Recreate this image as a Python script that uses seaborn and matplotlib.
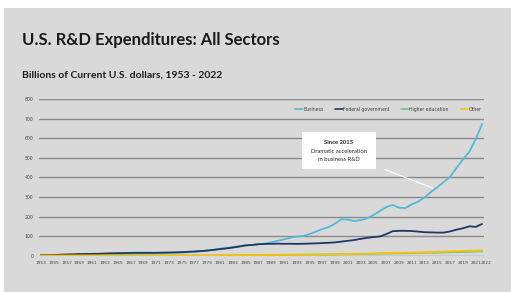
import pandas as pd
import seaborn as sns
import matplotlib.pyplot as plt
from matplotlib.patches import Rectangle
from matplotlib.transforms import ScaledTranslation

years = list(range(1953, 2023))

business = [2.2, 2.3, 2.5, 3.0, 3.4, 3.7, 4.2, 4.5, 4.8, 5.1, 5.5, 5.9, 6.5,
            7.2, 7.7, 8.5, 9.5, 10.4, 10.8, 11.7, 13.3, 14.9, 15.8, 17.7,
            19.6, 22.5, 25.8, 30.9, 35.9, 39.5, 43.6, 48.9, 52.6, 55.0, 58.0,
            62.0, 68.0, 76.0, 83.0, 92.0, 97.0, 100.0, 110.0, 123.0, 136.0,
            146.0, 164.0, 186.0, 184.0, 177.0, 182.0, 191.0, 207.0, 228.0,
            248.0, 259.0, 245.0, 243.0, 262.0, 276.0, 297.0, 325.0, 350.0,
            376.0, 403.0, 448.0, 492.0, 530.0, 595.0, 672.0]

federal = [2.8, 3.1, 3.5, 5.0, 6.4, 7.2, 8.6, 8.9, 9.3, 9.9, 11.2, 12.5, 13.0,
           13.7, 14.4, 14.9, 14.9, 14.9, 15.0, 15.8, 16.4, 17.1, 18.1, 19.9,
           21.6, 23.9, 26.3, 29.6, 33.7, 37.1, 41.5, 46.5, 52.6, 54.6, 58.6,
           60.1, 60.5, 61.6, 60.8, 60.9, 60.5, 60.8, 62.0, 63.0, 64.5, 66.0,
           68.0, 72.0, 76.0, 80.0, 86.0, 91.0, 95.0, 98.0, 110.0, 125.0,
           127.0, 127.0, 126.0, 123.0, 120.0, 119.0, 118.0, 118.0, 124.0,
           133.0, 140.0, 150.0, 147.0, 162.0]

higher_ed = [0.1, 0.1, 0.1, 0.1, 0.1, 0.2, 0.2, 0.2, 0.2, 0.2, 0.3, 0.3, 0.3,
             0.4, 0.4, 0.5, 0.5, 0.6, 0.6, 0.7, 0.7, 0.8, 0.9, 1.0, 1.1, 1.2,
             1.3, 1.3, 1.5, 1.7, 1.9, 2.1, 2.4, 2.7, 3.0, 3.3, 3.6, 3.9, 4.2,
             4.4, 4.6, 4.8, 5.2, 5.5, 5.9, 6.3, 6.8, 7.5, 8.2, 8.7, 9.2, 9.5,
             10.0, 10.5, 11.2, 11.8, 12.0, 12.5, 13.2, 14.0, 14.7, 15.3,
             16.0, 16.8, 17.5, 18.2, 19.0, 20.0, 21.0, 22.0]

other = [0.2, 0.2, 0.2, 0.2, 0.2, 0.3, 0.3, 0.3, 0.3, 0.3, 0.4, 0.4, 0.4,
         0.5, 0.5, 0.6, 0.6, 0.7, 0.7, 0.8, 0.8, 0.9, 1.0, 1.1, 1.2, 1.3,
         1.4, 1.5, 1.7, 1.9, 2.2, 2.5, 2.8, 3.1, 3.4, 3.7, 4.1, 4.5, 4.8,
         5.1, 5.4, 5.7, 6.1, 6.5, 7.0, 7.5, 7.8, 8.0, 8.5, 9.0, 9.6, 10.3,
         11.0, 12.0, 13.0, 13.8, 14.2, 15.0, 15.8, 16.6, 17.5, 18.5, 20.0,
         21.0, 22.0, 23.0, 24.2, 25.0, 26.0, 27.0]

sectors = ["Business", "Federal government", "Higher education", "Other"]
colors = ["#55b8d8", "#1f3864", "#6cc98a", "#ffc000"]

df = pd.DataFrame({"year": years, "Business": business,
                   "Federal government": federal,
                   "Higher education": higher_ed, "Other": other})
long_df = df.melt(id_vars="year", var_name="sector", value_name="value")

bg = "#d9d9d9"
sns.set_style("white")
plt.rcParams['font.family'] = ['Lato', 'DejaVu Sans']
narrow = ['Liberation Sans Narrow', 'DejaVu Sans']

fig = plt.figure(figsize=(5.11, 2.92), dpi=100, facecolor="white")
fig.patches.append(Rectangle((4 / 511, -0.05), 1.1, 1.05 - 8 / 292,
                             transform=fig.transFigure,
                             facecolor=bg, edgecolor="none", zorder=-10))

ax = fig.add_axes([39 / 511, 1 - 255.7 / 292, 445 / 511, 156.7 / 292])
ax.patch.set_alpha(0)

sns.lineplot(data=long_df, x="year", y="value", hue="sector", hue_order=sectors,
             palette=dict(zip(sectors, colors)), linewidth=1.3, ax=ax, legend=False)

ax.set_xlim(1952.7, 2022.3)
ax.set_ylim(0, 800)
ax.set_yticks(range(0, 801, 100))
xt = list(range(1953, 2022, 2)) + [2022]
ax.set_xticks(xt)
ax.set_xticklabels([str(y) for y in xt], family=narrow, fontsize=3.1, color="#404040")
ax.set_yticklabels([str(v) for v in range(0, 801, 100)], family=narrow,
                   fontsize=3.3, color="#404040")
ax.tick_params(length=0, pad=4)
# the last label sits a little to the right, as in the original
last = ax.get_xticklabels()[-1]
last.set_transform(last.get_transform() + ScaledTranslation(4 / 100, 0, fig.dpi_scale_trans))
ax.grid(axis="y", color="#8a8a8a", linewidth=1)
ax.set_axisbelow(True)
for s in ax.spines.values():
    s.set_visible(False)
ax.set_xlabel("")
ax.set_ylabel("")

# legend
handles = [plt.Line2D([], [], color=c, lw=1.2) for c in colors]
leg = ax.legend(handles, sectors, loc="center", bbox_to_anchor=(0.785, 0.936),
                ncol=4, frameon=False, handlelength=1.6,
                handletextpad=0.1, columnspacing=2.6,
                prop={'family': narrow, 'size': 3.3})
for t in leg.get_texts():
    t.set_color("#404040")

# annotation
ax.annotate("", xy=(2014.7, 340), xytext=(2006.4, 445),
            arrowprops=dict(arrowstyle="-", color="white", lw=0.9))
box_x0 = 1953 + (302 - 41) / 6.4
box_x1 = 1953 + (376 - 41) / 6.4
ax.add_patch(Rectangle((box_x0, (255.7 - 169) / 0.196), box_x1 - box_x0,
                       37 / 0.196, facecolor="white", edgecolor="none", zorder=5))
xc = (box_x0 + box_x1) / 2
ax.text(xc, (255.7 - 142) / 0.196, "Since 2015", ha="center", va="center",
        fontsize=4.2, fontweight="bold", color="#262626", zorder=6)
ax.text(xc, (255.7 - 151) / 0.196, "Dramatic acceleration", ha="center", va="center",
        fontsize=4.2, color="#262626", zorder=6)
ax.text(xc, (255.7 - 159) / 0.196, "in business R&D", ha="center", va="center",
        fontsize=4.2, color="#262626", zorder=6)

fig.text(22 / 511, 1 - 45 / 292, "U.S. R&D Expenditures: All Sectors",
         fontsize=12.0, fontweight="bold", color="#1a1a1a", va="baseline")
fig.text(22.5 / 511, 1 - 77.5 / 292, "Billions of Current U.S. dollars, 1953 - 2022",
         fontsize=7.5, fontweight="bold", color="#1a1a1a", va="baseline")

fig.savefig("out.png", dpi=100, facecolor="white")
